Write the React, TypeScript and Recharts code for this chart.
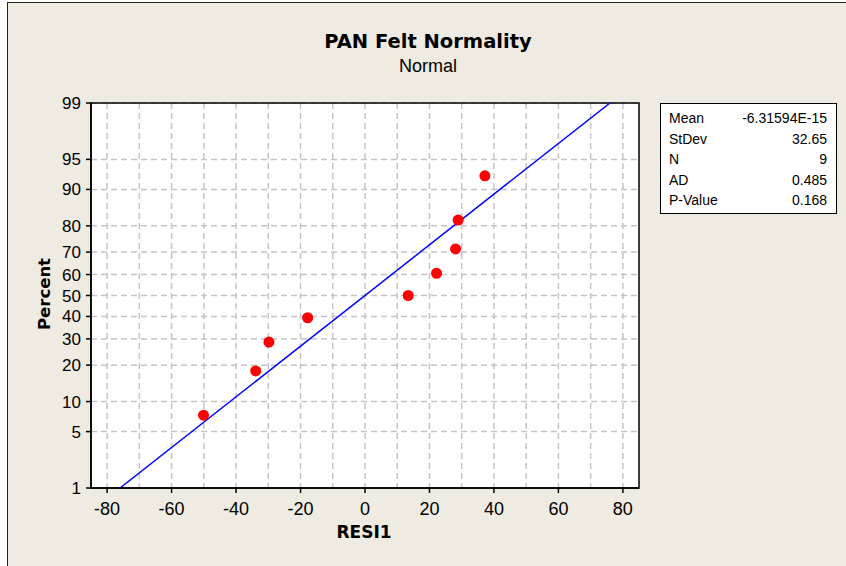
import React from 'react'
import {
  ComposedChart,
  Scatter,
  Line,
  XAxis,
  YAxis,
  CartesianGrid,
  ReferenceArea,
} from 'recharts'

// residuals (x) and their plotted percent (y)
const residuals = [-50.1, -33.9, -29.8, -17.8, 13.4, 22.2, 28.1, 28.9, 37.2]
const percents = [7.4, 18.1, 28.7, 39.4, 50.0, 60.6, 71.3, 81.9, 92.6]

// fitted normal line end points
const fitX = [-76, 76]
const fitP = [1, 99]

const xTicks = [-80, -60, -40, -20, 0, 20, 40, 60, 80]
const xGrid = [-80, -70, -60, -50, -40, -30, -20, -10, 0, 10, 20, 30, 40, 50, 60, 70, 80]
const yTicks = [1, 5, 10, 20, 30, 40, 50, 60, 70, 80, 90, 95, 99]

const statNames = ['Mean', 'StDev', 'N', 'AD', 'P-Value']
const statValues = ['-6.31594E-15', '32.65', '9', '0.485', '0.168']

// inverse standard normal cdf (Acklam) to draw the probability scale
function probit(p: number) {
  const a = [-39.69683028665376, 220.9460984245205, -275.9285104469687, 138.357751867269, -30.66479806614716, 2.506628277459239]
  const b = [-54.47609879822406, 161.5858368580409, -155.6989798598866, 66.80131188771972, -13.28068155288572]
  const c = [-0.007784894002430293, -0.3223964580411365, -2.400758277161838, -2.549732539343734, 4.374664141464968, 2.938163982698783]
  const d = [0.007784695709041462, 0.3224671290700398, 2.445134137142996, 3.754408661907416]
  const lo = 0.02425
  if (p < lo) {
    const q = Math.sqrt(-2 * Math.log(p))
    return (((((c[0] * q + c[1]) * q + c[2]) * q + c[3]) * q + c[4]) * q + c[5]) / ((((d[0] * q + d[1]) * q + d[2]) * q + d[3]) * q + 1)
  }
  if (p > 1 - lo) {
    const q = Math.sqrt(-2 * Math.log(1 - p))
    return -(((((c[0] * q + c[1]) * q + c[2]) * q + c[3]) * q + c[4]) * q + c[5]) / ((((d[0] * q + d[1]) * q + d[2]) * q + d[3]) * q + 1)
  }
  const q = p - 0.5
  const r = q * q
  return (((((a[0] * r + a[1]) * r + a[2]) * r + a[3]) * r + a[4]) * r + a[5]) * q / (((((b[0] * r + b[1]) * r + b[2]) * r + b[3]) * r + b[4]) * r + 1)
}

const z = (pct: number) => probit(pct / 100)

const points = residuals.map((x, i) => ({ x, y: z(percents[i]) }))
const fitLine = fitX.map((x, i) => ({ x, y: z(fitP[i]) }))
const yTickZ = yTicks.map(z)
const zMin = z(1)
const zMax = z(99)

const regular = '"Liberation Sans", Arial, sans-serif'
const bold = '"DejaVu Sans", Verdana, sans-serif'

function yLabel(v: number) {
  let best = 0
  yTickZ.forEach((t, i) => {
    if (Math.abs(t - v) < Math.abs(yTickZ[best] - v)) best = i
  })
  return String(yTicks[best])
}

export default function App() {
  return (
    <div style={{ position: 'absolute', left: 0, top: 0, width: 846, height: 566, overflow: 'hidden', background: '#fff' }}>
      <div
        style={{
          position: 'absolute',
          left: 7,
          top: 2,
          width: 900,
          height: 700,
          background: '#EFEBE2',
          borderLeft: '1.5px solid #222',
          borderTop: '1.5px solid #222',
        }}
      />
      <div style={{ position: 'absolute', left: 0, top: 0 }}>
        <ComposedChart width={846} height={566} margin={{ top: 103, right: 207, bottom: 48, left: 31 }}>
          <CartesianGrid
            fill="#fff"
            stroke="#C4C4C4"
            strokeWidth={1.5}
            strokeDasharray="6 4"
            verticalValues={xGrid}
            horizontalValues={yTickZ}
          />
          <XAxis
            dataKey="x"
            type="number"
            domain={[-85, 85]}
            ticks={xTicks}
            interval={0}
            allowDataOverflow
            height={30}
            tickSize={5}
            tickMargin={9}
            axisLine={{ stroke: '#000', strokeWidth: 1.5 }}
            tickLine={{ stroke: '#000', strokeWidth: 1.5 }}
            tick={{ fill: '#000', fontSize: 18, fontFamily: regular }}
          />
          <YAxis
            dataKey="y"
            type="number"
            domain={[zMin, zMax]}
            ticks={yTickZ}
            interval={0}
            allowDataOverflow
            width={60}
            tickSize={5}
            tickMargin={5}
            tickFormatter={yLabel}
            axisLine={{ stroke: '#000', strokeWidth: 1.5 }}
            tickLine={{ stroke: '#000', strokeWidth: 1.5 }}
            tick={{ fill: '#000', fontSize: 17, fontFamily: regular }}
          />
          <ReferenceArea x1={-85} x2={85} y1={zMin} y2={zMax} fill="none" stroke="#000" strokeWidth={1.5} ifOverflow="visible" />
          <Line
            data={fitLine}
            dataKey="y"
            type="linear"
            stroke="#0000FF"
            strokeWidth={1.5}
            dot={false}
            isAnimationActive={false}
          />
          <Scatter
            data={points}
            fill="#FF0000"
            isAnimationActive={false}
            shape={(p: any) => <circle cx={p.cx} cy={p.cy} r={5.5} fill="#FF0000" />}
          />
        </ComposedChart>
      </div>

      <div style={{ position: 'absolute', left: 0, width: 856, top: 29, textAlign: 'center', fontFamily: bold, fontWeight: 'bold', fontSize: 19.5, lineHeight: '26px' }}>
        PAN Felt Normality
      </div>
      <div style={{ position: 'absolute', left: 0, width: 856, top: 55, textAlign: 'center', fontFamily: regular, fontSize: 18, lineHeight: '22px' }}>
        Normal
      </div>
      <div style={{ position: 'absolute', left: 264, width: 200, top: 520, textAlign: 'center', fontFamily: bold, fontWeight: 'bold', fontSize: 17, lineHeight: '24px' }}>
        RESI1
      </div>
      <div
        style={{
          position: 'absolute',
          left: 45 - 100,
          top: 294 - 12,
          width: 200,
          textAlign: 'center',
          fontFamily: bold,
          fontWeight: 'bold',
          fontSize: 16.5,
          lineHeight: '24px',
          transform: 'rotate(-90deg)',
        }}
      >
        Percent
      </div>

      <div
        style={{
          position: 'absolute',
          left: 660,
          top: 103,
          width: 175,
          height: 105,
          border: '1.5px solid #000',
          background: '#fff',
          fontFamily: regular,
          fontSize: 14,
          paddingTop: 4,
          boxSizing: 'content-box',
        }}
      >
        {statNames.map((n, i) => (
          <div key={n} style={{ display: 'flex', justifyContent: 'space-between', height: 20.5, lineHeight: '20.5px', padding: '0 9px 0 8px' }}>
            <span>{n}</span>
            <span>{statValues[i]}</span>
          </div>
        ))}
      </div>
    </div>
  )
}
